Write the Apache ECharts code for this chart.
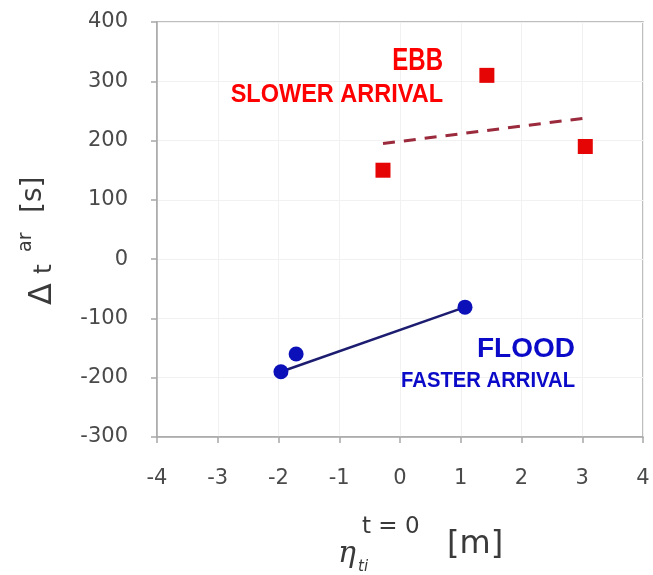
<!DOCTYPE html>
<html>
<head>
<meta charset="utf-8">
<script src="https://cdn.jsdelivr.net/npm/echarts@6/dist/echarts.min.js"></script>
<style>
  html, body { margin: 0; padding: 0; background: #ffffff; }
  #chart { width: 653px; height: 575px; }
</style>
</head>
<body>
<div id="chart"></div>
<script>
// Ebb tide: arrival delay versus initial water level
const ebbPoints = [[-0.28, 150], [1.43, 310], [3.05, 190]];
const ebbTrend = [[-0.28, 195], [3.05, 238]];

// Flood tide: arrival advance versus initial water level
const floodPoints = [[-1.96, -190], [-1.71, -160], [1.07, -81]];
const floodTrend = [[-1.96, -190], [1.07, -81]];

const xTicks = [-4, -3, -2, -1, 0, 1, 2, 3, 4];
const yTicks = [-300, -200, -100, 0, 100, 200, 300, 400];

const chart = echarts.init(document.getElementById('chart'), null, { renderer: 'canvas' });

const tickFont = { fontFamily: 'DejaVu Sans', fontSize: 21, color: '#4a4a4a' };
const axisLineStyle = { color: '#a8a8a8', width: 1.5 };
const annFont = '"Liberation Sans", Arial, sans-serif';
const titleColor = '#3a3a3a';

chart.setOption({
  animation: false,
  backgroundColor: '#ffffff',
  grid: { left: 157, right: 10, top: 22, bottom: 138, show: true, borderColor: '#a8a8a8', borderWidth: 1.5 },
  xAxis: {
    type: 'value',
    min: xTicks[0], max: xTicks[xTicks.length - 1], interval: 1,
    axisLine: { show: true, onZero: false, lineStyle: axisLineStyle },
    axisTick: { show: true, inside: false, length: 6, lineStyle: axisLineStyle },
    axisLabel: Object.assign({ margin: 31 }, tickFont),
    splitLine: { show: true, lineStyle: { color: '#f1f1f1', width: 1 } }
  },
  yAxis: {
    type: 'value',
    min: yTicks[0], max: yTicks[yTicks.length - 1], interval: 100,
    axisLine: { show: true, onZero: false, lineStyle: axisLineStyle },
    axisTick: { show: true, inside: false, length: 6, lineStyle: axisLineStyle },
    axisLabel: Object.assign({ margin: 29 }, tickFont),
    splitLine: { show: true, lineStyle: { color: '#f1f1f1', width: 1 } }
  },
  series: [
    {
      name: 'ebb trend', type: 'line', data: ebbTrend, symbol: 'none',
      lineStyle: { color: '#9a2a3c', width: 3, type: [12, 9] }, z: 2
    },
    {
      name: 'ebb', type: 'scatter', data: ebbPoints, symbol: 'rect', symbolSize: 15,
      itemStyle: { color: '#e50505', opacity: 1 }, z: 3
    },
    {
      name: 'flood trend', type: 'line', data: floodTrend, symbol: 'none',
      lineStyle: { color: '#1c1c70', width: 2.5 }, z: 2
    },
    {
      name: 'flood', type: 'scatter', data: floodPoints, symbol: 'circle', symbolSize: 15,
      itemStyle: { color: '#0b10b8', opacity: 1 }, z: 3
    }
  ],
  graphic: [
    // annotations
    { type: 'text', x: 443, y: 61, scaleX: 0.75, z: 100, style: { text: 'EBB', fill: '#ff0000', font: 'bold 32px ' + annFont, textAlign: 'right', textVerticalAlign: 'middle' } },
    { type: 'text', x: 443, y: 95, scaleX: 0.94, z: 100, style: { text: 'SLOWER ARRIVAL', fill: '#ff0000', font: 'bold 25px ' + annFont, textAlign: 'right', textVerticalAlign: 'middle' } },
    { type: 'text', x: 575, y: 349, z: 100, style: { text: 'FLOOD', fill: '#0a0ac8', font: 'bold 28px ' + annFont, textAlign: 'right', textVerticalAlign: 'middle' } },
    { type: 'text', x: 575, y: 381, scaleX: 0.92, z: 100, style: { text: 'FASTER ARRIVAL', fill: '#0a0ac8', font: 'bold 22px ' + annFont, textAlign: 'right', textVerticalAlign: 'middle' } },
    // y-axis title: Δt^ar [s]
    {
      type: 'group', x: 57, y: 305, rotation: Math.PI / 2, z: 100,
      children: [
        { type: 'text', x: 0, y: 2, style: { text: 'Δ', fill: titleColor, font: '32px "DejaVu Sans"', textAlign: 'left', textVerticalAlign: 'bottom' } },
        { type: 'text', x: 31, y: 0, style: { text: 't', fill: titleColor, font: '25px "DejaVu Sans"', textAlign: 'left', textVerticalAlign: 'bottom' } },
        { type: 'text', x: 53, y: -21, style: { text: 'ar', fill: titleColor, font: '19px "DejaVu Sans"', textAlign: 'left', textVerticalAlign: 'bottom' } },
        { type: 'text', x: 92, y: -9, style: { text: '[s]', fill: titleColor, font: '28px "DejaVu Sans"', textAlign: 'left', textVerticalAlign: 'bottom' } }
      ]
    },
    // x-axis title: η_ti^{t=0} [m]
    {
      type: 'group', x: 338, y: 568, z: 100,
      children: [
        { type: 'text', x: 0, y: 1, style: { text: 'η', fill: titleColor, font: 'italic 30px "DejaVu Serif"', textAlign: 'left', textVerticalAlign: 'bottom' } },
        { type: 'text', x: 24, y: -29, style: { text: 't = 0', fill: titleColor, font: '23px "DejaVu Sans"', textAlign: 'left', textVerticalAlign: 'bottom' } },
        { type: 'text', x: 20, y: 7, style: { text: 'ti', fill: titleColor, font: 'italic 15px "DejaVu Sans"', textAlign: 'left', textVerticalAlign: 'bottom' } },
        { type: 'text', x: 109, y: -7, style: { text: '[m]', fill: titleColor, font: '32px "DejaVu Sans"', textAlign: 'left', textVerticalAlign: 'bottom' } }
      ]
    }
  ]
});
</script>
</body>
</html>
